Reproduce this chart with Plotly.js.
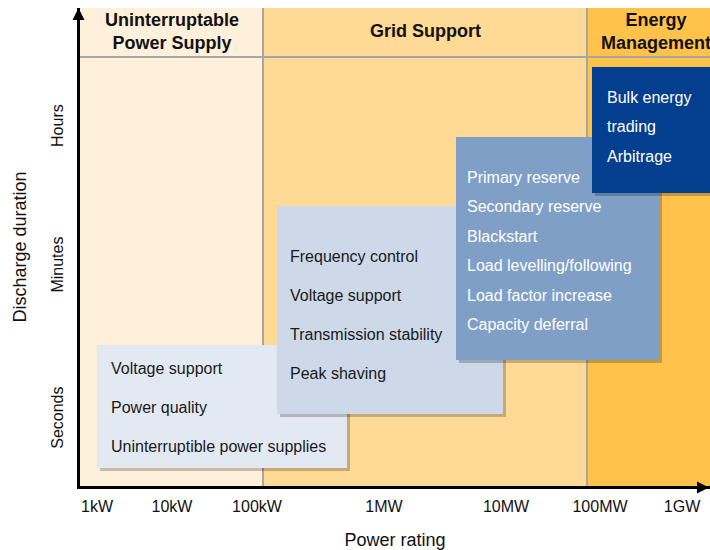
<!DOCTYPE html>
<html>
<head>
<meta charset="utf-8">
<script src="https://cdn.plot.ly/plotly-3.0.1.min.js"></script>
<style>
  html, body { margin: 0; padding: 0; background: #ffffff; }
  #chart { width: 710px; height: 550px; }
</style>
</head>
<body>
<div id="chart"></div>
<script>
// ---- Data (schematic positions on the chart's power / duration scales) ----
const categories = ['Uninterruptable<br>Power Supply', 'Grid Support', 'Energy<br>Management'];
const categoryStart = [0, 183, 507];
const categoryEnd = [183, 507, 645];

const xTickLabels = ['1kW', '10kW', '100kW', '1MW', '10MW', '100MW', '1GW'];
const xTickPos = [17, 92, 177, 304, 426, 520, 602];

const yTickLabels = ['Seconds', 'Minutes', 'Hours'];
const yTickPos = [66, 219, 358];

const upsApps = ['Voltage support', 'Power quality', 'Uninterruptible power supplies'];
const gridApps = ['Frequency control', 'Voltage support', 'Transmission stability', 'Peak shaving'];
const reserveApps = ['Primary reserve', 'Secondary reserve', 'Blackstart', 'Load levelling/following', 'Load factor increase', 'Capacity deferral'];
const bulkApps = ['Bulk energy', 'trading', 'Arbitrage'];

const boxApps = [upsApps, gridApps, reserveApps, bulkApps];
const boxPowerMin = [17, 197, 376, 512];
const boxPowerMax = [267, 423, 579, 645];
const boxDurationMin = [18, 72, 126, 293];
const boxDurationMax = [141, 280, 349, 419];

// ---- Styles ----
const FONT = 'Arial, "Liberation Sans", sans-serif';
const columnColors = ['#FEF0DA', '#FFDA94', '#FFC24B'];
const boxFill = ['#E3E9F3', '#CDD8E8', '#7F9FC7', '#033F8E'];
const boxText = ['#1A1A1A', '#1A1A1A', '#FFFFFF', '#FFFFFF'];
const firstLineOffset = [23, 50, 40, 30];
const lineGap = [39, 39, 29.5, 29.5];
const textIndent = [12, 11, 9, 13];
const headerLineY = 429;
const headerTextY = 455;
const X_MAX = 630, Y_MAX = 478;

const shapes = [];
const annotations = [];

// column backgrounds
categories.forEach((c, i) => {
  shapes.push({type: 'rect', xref: 'x', yref: 'y', layer: 'below',
    x0: categoryStart[i], x1: categoryEnd[i], y0: 0, y1: Y_MAX,
    fillcolor: columnColors[i], line: {width: 0}});
  annotations.push({xref: 'x', yref: 'y', x: (categoryStart[i] + categoryEnd[i]) / 2, y: headerTextY,
    text: '<b>' + c + '</b>', showarrow: false, xanchor: 'center', yanchor: 'middle',
    font: {family: FONT, size: 18, color: '#111111'}});
});
// column dividers
for (let i = 1; i < categoryStart.length; i++) {
  shapes.push({type: 'line', xref: 'x', yref: 'y', x0: categoryStart[i], x1: categoryStart[i],
    y0: 0, y1: Y_MAX, line: {color: '#A6A6A6', width: 2}});
}
// header separator
shapes.push({type: 'line', xref: 'x', yref: 'y', x0: 0, x1: X_MAX, y0: headerLineY, y1: headerLineY,
  line: {color: '#A6A6A6', width: 2}});

// application boxes
boxApps.forEach((apps, i) => {
  shapes.push({type: 'rect', xref: 'x', yref: 'y',
    x0: boxPowerMin[i] + 3, x1: boxPowerMax[i] + 3, y0: boxDurationMin[i] - 3, y1: boxDurationMax[i] - 3,
    fillcolor: 'rgba(0,0,0,0.22)', line: {width: 0}});
  shapes.push({type: 'rect', xref: 'x', yref: 'y',
    x0: boxPowerMin[i], x1: boxPowerMax[i], y0: boxDurationMin[i], y1: boxDurationMax[i],
    fillcolor: boxFill[i], line: {width: 0}});
  apps.forEach((t, k) => {
    annotations.push({xref: 'x', yref: 'y', x: boxPowerMin[i] + textIndent[i],
      y: boxDurationMax[i] - firstLineOffset[i] - k * lineGap[i],
      text: t, showarrow: false, xanchor: 'left', yanchor: 'middle',
      font: {family: FONT, size: 16, color: boxText[i]}});
  });
});

// axis arrowheads
annotations.push({xref: 'paper', yref: 'paper', x: 0, y: 1, ax: 0, ay: 24, axref: 'pixel', ayref: 'pixel',
  text: '', showarrow: true, arrowhead: 2, arrowsize: 0.8, arrowwidth: 3, arrowcolor: '#000000', xshift: -1.5});
annotations.push({xref: 'paper', yref: 'paper', x: 1.017, y: 0, ax: -24, ay: 0, axref: 'pixel', ayref: 'pixel',
  text: '', showarrow: true, arrowhead: 2, arrowsize: 0.8, arrowwidth: 3, arrowcolor: '#000000', yshift: -1.5});

const layout = {
  width: 710, height: 550,
  margin: {l: 80, r: 0, t: 8, b: 64, pad: 0},
  paper_bgcolor: '#FFFFFF', plot_bgcolor: '#FFFFFF',
  showlegend: false,
  xaxis: {range: [0, X_MAX], fixedrange: true, showgrid: false, zeroline: false,
    showline: true, linewidth: 3, linecolor: '#000000', ticks: '',
    tickmode: 'array', tickvals: xTickPos, ticktext: xTickLabels, ticklabelstandoff: 4,
    tickfont: {family: FONT, size: 16, color: '#111111'},
    title: {text: 'Power rating', font: {family: FONT, size: 18, color: '#111111'}, standoff: 20}},
  yaxis: {range: [0, Y_MAX], fixedrange: true, showgrid: false, zeroline: false,
    showline: true, linewidth: 3, linecolor: '#000000', ticks: '',
    tickmode: 'array', tickvals: yTickPos, ticktext: yTickLabels, tickangle: -90, ticklabelstandoff: 8,
    tickfont: {family: FONT, size: 16, color: '#111111'},
    title: {text: 'Discharge duration', font: {family: FONT, size: 18, color: '#111111'}, standoff: 18}},
  shapes: shapes,
  annotations: annotations
};

Plotly.newPlot('chart', [], layout, {displayModeBar: false, staticPlot: true});
</script>
</body>
</html>
